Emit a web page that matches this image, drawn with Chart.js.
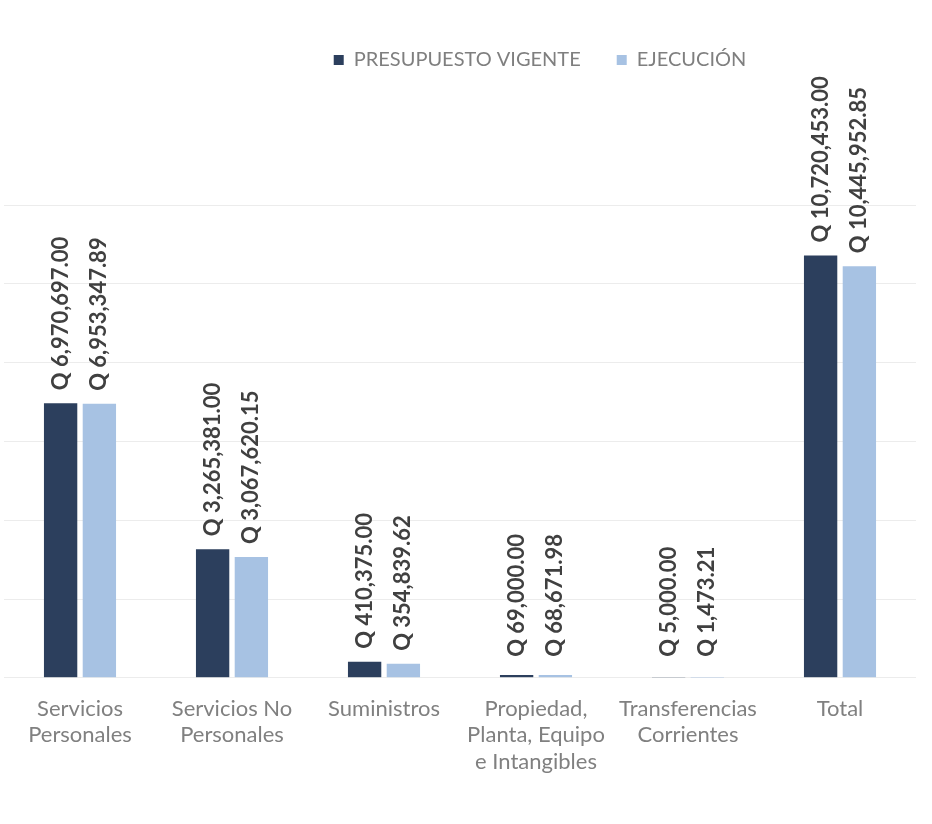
<!DOCTYPE html>
<html>
<head>
<meta charset="utf-8">
<script src="https://cdn.jsdelivr.net/npm/chart.js@4.4.1/dist/chart.umd.min.js"></script>
<style>
  html, body { margin: 0; padding: 0; background: #ffffff; }
  #wrap { width: 932px; height: 824px; position: relative; }
</style>
</head>
<body>
<div id="wrap"><canvas id="c" width="932" height="824"></canvas></div>
<script>
const categories = [
  ['Servicios', 'Personales'],
  ['Servicios No', 'Personales'],
  ['Suministros'],
  ['Propiedad,', 'Planta, Equipo', 'e Intangibles'],
  ['Transferencias', 'Corrientes'],
  ['Total']
];
const seriesNames = ['PRESUPUESTO VIGENTE', 'EJECUCIÓN'];
const presupuestoVigente = [6970697.00, 3265381.00, 410375.00, 69000.00, 5000.00, 10720453.00];
const ejecucion = [6953347.89, 3067620.15, 354839.62, 68671.98, 1473.21, 10445952.85];
const yTicks = [0, 2000000, 4000000, 6000000, 8000000, 10000000, 12000000];

const DARK = '#2c3f5d';
const LIGHT = '#a7c2e3';

function fmtQ(v) {
  return 'Q ' + v.toLocaleString('en-US', { minimumFractionDigits: 2, maximumFractionDigits: 2 });
}

const valueLabels = {
  id: 'valueLabels',
  afterDatasetsDraw(chart) {
    const ctx = chart.ctx;
    ctx.save();
    ctx.fillStyle = '#404040';
    ctx.font = 'bold 22px Lato';
    ctx.textAlign = 'left';
    ctx.textBaseline = 'middle';
    chart.data.datasets.forEach((ds, di) => {
      const meta = chart.getDatasetMeta(di);
      meta.data.forEach((bar, i) => {
        const y = Math.min(bar.y, chart.chartArea.bottom - 8);
        ctx.save();
        ctx.translate(bar.x, y - 13);
        ctx.rotate(-Math.PI / 2);
        ctx.fillText(fmtQ(ds.data[i]), 0, 0);
        ctx.restore();
      });
    });
    ctx.restore();
  }
};

const legendShift = {
  id: 'legendShift',
  afterLayout(chart) {
    const lg = chart.legend;
    if (!lg) return;
    const dx = 540 - (lg.left + lg.right) / 2;
    lg.left += dx; lg.right += dx;
    const dy = 14 - lg.top;
    lg.top += dy; lg.bottom += dy;
  }
};

new Chart(document.getElementById('c'), {
  type: 'bar',
  data: {
    labels: categories,
    datasets: [
      { label: seriesNames[0], data: presupuestoVigente, backgroundColor: DARK, borderWidth: 0,
        categoryPercentage: 0.51, barPercentage: 0.86 },
      { label: seriesNames[1], data: ejecucion, backgroundColor: LIGHT, borderWidth: 0,
        categoryPercentage: 0.51, barPercentage: 0.86 }
    ]
  },
  options: {
    responsive: false,
    animation: false,
    devicePixelRatio: 1,
    layout: { padding: { top: 139, left: 4, right: 16, bottom: 31 } },
    plugins: {
      legend: {
        position: 'top',
        labels: {
          boxWidth: 10, boxHeight: 10, padding: 36,
          color: '#7f7f7f',
          font: { family: 'Lato', size: 20 }
        }
      },
      tooltip: { enabled: false }
    },
    scales: {
      x: {
        grid: { display: false, drawTicks: false },
        border: { display: false },
        ticks: {
          color: '#808080', font: { family: 'Lato', size: 22, lineHeight: 1.2 },
          maxRotation: 0, autoSkip: false, padding: 18
        }
      },
      y: {
        min: 0, max: 12000000,
        afterBuildTicks(axis) { axis.ticks = yTicks.map(v => ({ value: v })); },
        grid: { color: '#ececec', lineWidth: 1, drawTicks: false },
        border: { display: false },
        ticks: { display: false }
      }
    }
  },
  plugins: [valueLabels, legendShift]
});
</script>
</body>
</html>
